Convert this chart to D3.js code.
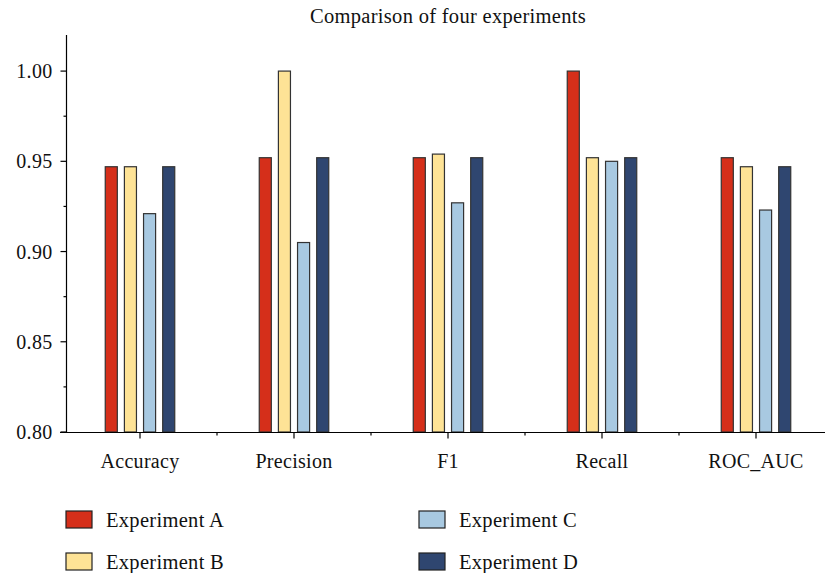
<!DOCTYPE html>
<html><head><meta charset="utf-8">
<script src="https://cdn.jsdelivr.net/npm/d3@7"></script>
<style>body{margin:0;background:#fff}svg{display:block}text{font-family:"Liberation Serif","DejaVu Serif",serif;fill:#111;letter-spacing:0.3px}</style>
</head><body><svg id="c" width="825" height="573"></svg>
<script>
const categories = ["Accuracy","Precision","F1","Recall","ROC_AUC"];
const seriesNames = ["Experiment A","Experiment B","Experiment C","Experiment D"];
const expA = [0.947, 0.952, 0.952, 1.000, 0.952];
const expB = [0.947, 1.000, 0.954, 0.952, 0.947];
const expC = [0.921, 0.905, 0.927, 0.950, 0.923];
const expD = [0.947, 0.952, 0.952, 0.952, 0.947];
const colors = ["#d52f1a","#fee396","#a8c9e1","#2f4670"];
const yTicks = [0.80, 0.85, 0.90, 0.95, 1.00];
const yMinor = [0.825, 0.875, 0.925, 0.975];
const series = [expA, expB, expC, expD];

const svg = d3.select("#c");
const x = d3.scaleBand().domain(categories).range([63, 833]);
const y = d3.scaleLinear().domain([0.8, 1.02]).range([432, 35]);
const sub = d3.scaleBand().domain(seriesNames).range([-38, 38]).paddingInner(0.37).paddingOuter(0.17);

// bars
categories.forEach((c, i) => {
  series.forEach((s, j) => {
    svg.append("rect")
      .attr("x", x(c) + x.bandwidth()/2 + sub(seriesNames[j]))
      .attr("width", sub.bandwidth())
      .attr("y", y(s[i]))
      .attr("height", y(0.8) - y(s[i]))
      .attr("fill", colors[j])
      .attr("stroke", "#333").attr("stroke-width", 1.2);
  });
});

// y axis
const yAxis = svg.append("g").attr("transform", "translate(66.5,0)");
yAxis.append("line").attr("y1", 35).attr("y2", 432.5).attr("stroke", "#000").attr("stroke-width", 1.2);
yTicks.forEach(t => {
  yAxis.append("line").attr("x1", -6).attr("x2", 0).attr("y1", y(t)).attr("y2", y(t)).attr("stroke", "#000").attr("stroke-width", 1.2);
  yAxis.append("text").attr("x", -14).attr("y", y(t)).attr("dy", "0.35em").attr("text-anchor", "end")
    .style("font-size", "20px").text(d3.format(".2f")(t));
});
yMinor.forEach(t => {
  yAxis.append("line").attr("x1", -3).attr("x2", 0).attr("y1", y(t)).attr("y2", y(t)).attr("stroke", "#000").attr("stroke-width", 1.2);
});

// x axis
const xAxis = svg.append("g").attr("transform", "translate(0,432.5)");
xAxis.append("line").attr("x1", 60).attr("x2", 825).attr("stroke", "#000").attr("stroke-width", 1.2);
categories.forEach(c => {
  const cx = x(c) + x.bandwidth()/2;
  xAxis.append("line").attr("x1", cx).attr("x2", cx).attr("y1", 0).attr("y2", 6).attr("stroke", "#000").attr("stroke-width", 1.2);
  xAxis.append("text").attr("x", cx).attr("y", 35).attr("text-anchor", "middle").style("font-size", "20px").text(c);
  const bx = x(c) + x.bandwidth();
  xAxis.append("line").attr("x1", bx).attr("x2", bx).attr("y1", 0).attr("y2", 3).attr("stroke", "#000").attr("stroke-width", 1.2);
});

// title
svg.append("text").attr("x", 448).attr("y", 23).attr("text-anchor", "middle").style("font-size", "20.5px").text("Comparison of four experiments");

// legend
const legPos = [[66,511],[66,553],[419,511],[419,553]];
seriesNames.forEach((n, j) => {
  const [lx, ly] = legPos[j];
  svg.append("rect").attr("x", lx).attr("y", ly).attr("width", 26).attr("height", 17).attr("fill", colors[j]).attr("stroke", "#222").attr("stroke-width", 1.2);
  svg.append("text").attr("x", lx + 40).attr("y", ly + 9).attr("dy", "0.35em").style("font-size", "20.5px").text(n);
});
</script></body></html>
